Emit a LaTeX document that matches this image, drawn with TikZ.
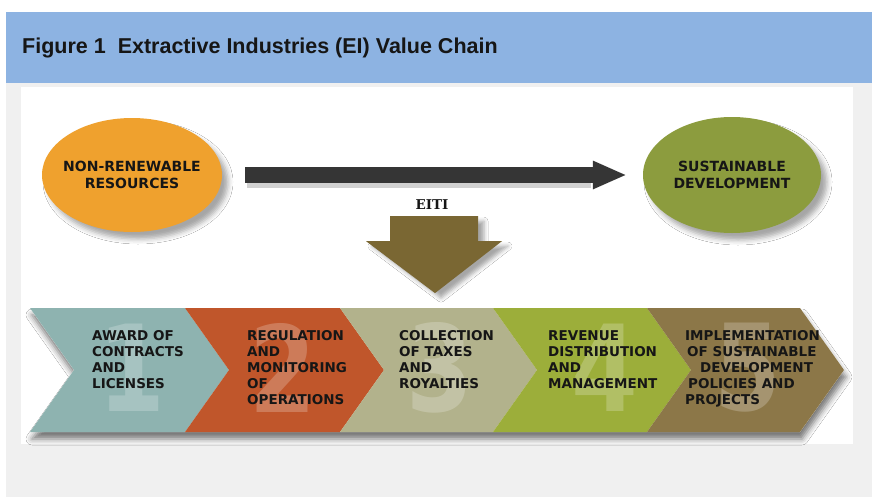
\documentclass[tikz,border=0pt]{standalone}
\usepackage{fontspec}
\setmainfont{DejaVu Sans}
\newfontfamily\titlefont{Liberation Sans}
\newfontfamily\tagfont{DejaVu Serif}
\usetikzlibrary{shapes.geometric, shadows.blur, arrows.meta}

\definecolor{headblue}{HTML}{8DB3E2}
\definecolor{panelgray}{HTML}{F0F0F0}
\definecolor{inktext}{HTML}{161616}
\definecolor{resorange}{HTML}{EFA12E}
\definecolor{devgreen}{HTML}{8C9C3E}
\definecolor{flowgray}{HTML}{353535}
\definecolor{eitibrown}{HTML}{7A6733}
\definecolor{stepteal}{HTML}{8EB3B0}
\definecolor{steporange}{HTML}{C0562B}
\definecolor{stepsand}{HTML}{B2B28C}
\definecolor{steplime}{HTML}{9CAE3A}
\definecolor{stepbrown}{HTML}{8C7748}

\begin{document}
\begin{tikzpicture}[x=1pt, y=-1pt,
    blob/.style={ellipse, inner xsep=-12pt, inner ysep=0pt, text=inktext, align=center,
      font=\bfseries\fontsize{14}{17}\selectfont,
      blur shadow={shadow xshift=6pt, shadow yshift=-7pt, shadow blur radius=5pt, shadow opacity=35}},
    lbl/.style={anchor=north west, inner sep=0pt, text=inktext, align=left,
      font=\bfseries\fontsize{13.5}{16}\selectfont},
    bignum/.style={inner sep=0pt, text=white, text opacity=0.22,
      font=\bfseries\fontsize{120}{120}\selectfont}]
        \useasboundingbox (0,0) rectangle (872,498);
        % Header bar and panel
        \fill[headblue] (6,12) rectangle (872,83);
        \fill[panelgray] (6,83) rectangle (872,497);
        \fill[white] (21,87) rectangle (853,444);
        \node[anchor=west, inner sep=0pt, text=inktext,
          font=\titlefont\bfseries\fontsize{21.5}{21.5}\selectfont] (title)
          at (22,48) {Figure 1\ \ Extractive Industries (EI) Value Chain};
        % Resources and development
        \node[blob, fill=resorange, minimum width=180pt, minimum height=114pt] (res)
          at (132,175) {NON-RENEWABLE\\RESOURCES};
        \node[blob, fill=devgreen, minimum width=178pt, minimum height=116pt] (dev)
          at (732,175) {SUSTAINABLE\\DEVELOPMENT};
        % Main flow arrow
        \draw[line width=16pt, black, opacity=0.18, transform canvas={yshift=-5pt}]
          ([xshift=25pt]res.east) -- ([xshift=-52pt]dev.west);
        \draw[line width=16pt, flowgray, -{Triangle[length=34pt, width=26pt]}]
          ([xshift=23pt]res.east) -- ([xshift=-16pt]dev.west);
        % EITI drop arrow
        \node[inner sep=0pt, text=inktext, font=\tagfont\bfseries\fontsize{13.5}{14}\selectfont] (eiti)
          at (432,205) {EITI};
        \coordinate (drop) at ([xshift=2pt, yshift=-6pt]eiti.south);
        \fill[eitibrown, blur shadow={shadow xshift=6pt, shadow yshift=-5pt,
            shadow blur radius=4pt, shadow opacity=35}]
          ([xshift=-44pt]drop) -- ++(88,0) -- ++(0,25) -- ++(24,0) -- ++(-67,52)
          -- ++(-69,-52) -- ++(24,0) -- cycle;
        % Value chain band
        \fill[white, blur shadow={shadow xshift=2pt, shadow yshift=-7pt, shadow blur radius=6pt, shadow opacity=55}]
          (30,308) -- (800,308) -- (844,370) -- (800,432) -- (30,432) -- (74,370) -- cycle;
        \foreach \xa/\xb/\col in {30/185/stepteal, 185/340/steporange, 340/493/stepsand,
            493/647/steplime, 647/800/stepbrown}{
          \fill[\col] (\xa,308) -- (\xb,308) -- ({\xb+44},370) -- (\xb,432)
            -- (\xa,432) -- ({\xa+44},370) -- cycle;
        }
        \foreach \n/\x in {1/132, 2/283, 3/440, 4/605, 5/748}{
          \node[bignum] (num\n) at (\x,368) {\scalebox{0.8}[1]{\n}};
        }
        % Step labels
        \node[lbl] (award) at (92,330) {AWARD OF\\CONTRACTS\\AND\\LICENSES};
        \node[lbl] (regul) at (247,330) {REGULATION\\AND\\MONITORING\\OF\\OPERATIONS};
        \node[lbl] (taxes) at (399,330) {COLLECTION\\OF TAXES\\AND\\ROYALTIES};
        \node[lbl] (revenue) at (548,330) {REVENUE\\DISTRIBUTION\\AND\\MANAGEMENT};
        \node[lbl] (policy) at (685,330) {IMPLEMENTATION\\\hspace*{2pt}OF SUSTAINABLE\\
          \hspace*{15pt}DEVELOPMENT\\\hspace*{3pt}POLICIES AND\\PROJECTS};
      \end{tikzpicture}
\end{document}
